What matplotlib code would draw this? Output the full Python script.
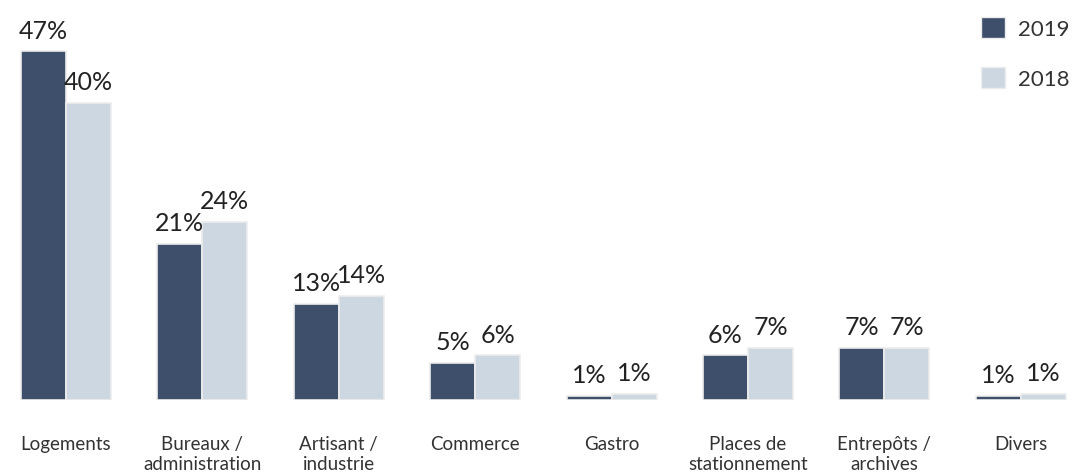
import numpy as np
import matplotlib.pyplot as plt
from matplotlib.patches import Patch

categories = ["Logements", "Bureaux /\nadministration", "Artisant /\nindustrie",
              "Commerce", "Gastro", "Places de\nstationnement",
              "Entrepôts /\narchives", "Divers"]
part_2019 = [47, 21, 13, 5, 0.6, 6, 7, 0.6]
part_2018 = [40, 24, 14, 6, 0.8, 7, 7, 0.8]
years = ["2019", "2018"]

dark = "#3d4f6b"
light = "#cdd7e1"

plt.rcParams['font.family'] = ['Lato', 'DejaVu Sans']

fig = plt.figure(figsize=(10.72, 4.77), dpi=100)
ax = fig.add_axes([0, 76 / 477, 1, 401 / 477])

x = np.arange(len(categories))
w = 0.33
b1 = ax.bar(x - w / 2, part_2019, w, color=dark, edgecolor="#ececec", linewidth=1.2)
b2 = ax.bar(x + w / 2, part_2018, w, color=light, edgecolor="#ececec", linewidth=1.2)

for bars, vals in ((b1, part_2019), (b2, part_2018)):
    for r, v in zip(bars, vals):
        ax.annotate(f"{int(v + 0.5)}%", (r.get_x() + r.get_width() / 2, r.get_height()),
                    xytext=(0, 7), textcoords="offset points",
                    ha="center", va="bottom", fontsize=18, color="#222222")

ax.set_xlim(-66 / 136.4, (1072 - 66) / 136.4)
ax.set_ylim(0, 401 / 7.42)
ax.set_xticks(x)
ax.set_xticklabels(categories, fontsize=13.5, color="#333333", linespacing=1.2)
ax.tick_params(axis="x", length=0, pad=25)
ax.set_yticks([])
for s in ax.spines.values():
    s.set_visible(False)

handles = [Patch(facecolor=dark, edgecolor="#ececec"), Patch(facecolor=light, edgecolor="#ececec")]
fig.legend(handles, years, loc="upper right", bbox_to_anchor=(1.014, 1.0),
           frameon=False, fontsize=16, handlelength=1.1, handleheight=1.1,
           labelspacing=1.25, handletextpad=0.55, borderpad=0.3,
           labelcolor="#333333")

fig.savefig("out.png", dpi=100)
